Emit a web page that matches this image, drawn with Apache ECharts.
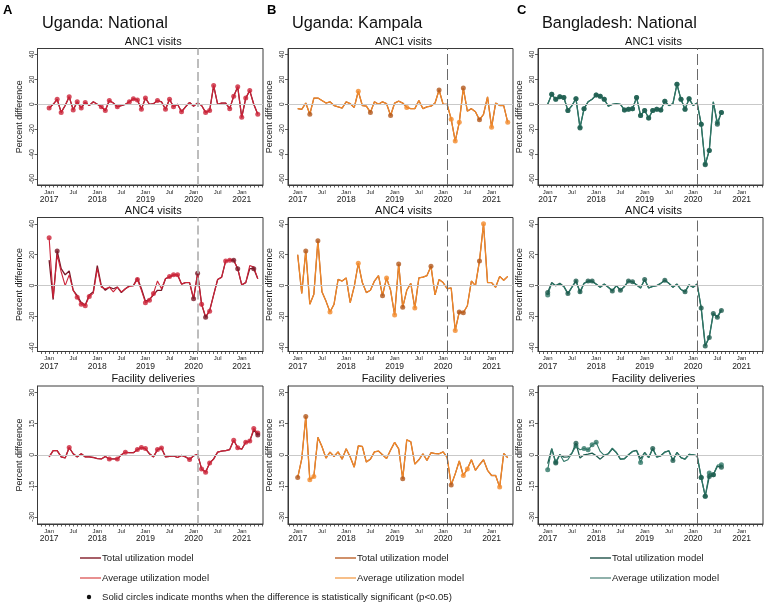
<!DOCTYPE html>
<html><head><meta charset="utf-8">
<script src="https://cdn.jsdelivr.net/npm/echarts@6/dist/echarts.min.js"></script>
<style>html,body{margin:0;padding:0;background:#fff}#c{width:767px;height:605px}</style>
</head><body><div id="c"></div>
<script>
// ---------- tick labels / categories ----------
const xTickMonths = [0, 6, 12, 18, 24, 30, 36, 42, 48];
const xTickMonthNames = ['Jan', 'Jul', 'Jan', 'Jul', 'Jan', 'Jul', 'Jan', 'Jul', 'Jan'];
const xTickYears = ['2017', '', '2018', '', '2019', '', '2020', '', '2021'];
const covidMonth = 37;
const columnLetters = ['A', 'B', 'C'];
const columnTitles = ['Uganda: National', 'Uganda: Kampala', 'Bangladesh: National'];
const rowTitles = ['ANC1 visits', 'ANC4 visits', 'Facility deliveries'];
const yTicksRow1 = [-60, -40, -20, 0, 20, 40];
const yTicksRow2 = [-40, -20, 0, 20, 40];
const yTicksRow3 = [-30, -15, 0, 15, 30];
const legendTotal = 'Total utilization model';
const legendAverage = 'Average utilization model';
const legendNote = 'Solid circles indicate months when the difference is statistically significant (p<0.05)';

// ---------- Uganda: National (months from Jan 2017) ----------
const ugNatAnc1Total = [-3, 0, 4, -6.5, -1, 6, -4.5, 2, -3, 1.5,
  -1, 2, 0, -2, -5, 3, 1, -2, -1, 0,
  2, 4.5, 3.5, -4, 5, 0, 0.5, 3, 2, -4,
  4, -2, 0, -6, -2, 1.5, -1.5, 1, -1, -6.5,
  -5, 15, 0, 1, 1, -3.5, 6.5, 14, -10.5, 5,
  11, 0, -8];
const ugNatAnc1Avg = [-3, 0, 4, -6.5, -1, 6, -4.5, 2, -3, 1.5,
  -1, 2, 0, -2, -5, 3, 1, -2, -1, 0,
  2, 4.5, 3.5, -4, 5, 0, 0.5, 3, 2, -4,
  4, -2, 0, -6, -2, 1.5, -1.5, 1, -1, -6.5,
  -5, 15, 0, 1, 1, -3.5, 6.5, 14, -10.5, 5,
  11, 0, -8];
const ugNatAnc1SigTotal = [];
const ugNatAnc1SigAvg = [0, 2, 3, 5, 6, 7, 8, 9, 13, 14, 15, 17, 20, 21, 22, 23, 24, 27, 29, 30, 31, 33, 39, 40, 41, 45, 46, 47, 48, 49, 50, 52];

const ugNatAnc4Total = [16.5, -9, 22.5, 11, 7, 9.5, -3, -6.5, -11, -12.5,
  -6, -4, 13, 0, -3, -1, -2, -1, -4.5, -2,
  0, 0, 5, -2, -10, -9, -6, -3, -3, 4.5,
  5.5, 7, 7, 1, 2, 2, -8.5, 8, -12, -20.5,
  -16, -6, 4, 5.5, 16, 16.5, 16.5, 11, 0.5, 2,
  11, 11, 4.5];
const ugNatAnc4Avg = [31, -8, 20, 9, 0, 7, -3, -7.5, -12, -13,
  -7, -5, 11, -1, -2, -1, -4, -1, -4, -2,
  -0.5, 0, 4, -3, -11, -9.5, -5, 3, -2, 4.5,
  6, 7, 7, 1, 2, 2, -8.5, 8, -12, -20,
  -16.5, -6, 4, 5.5, 16, 16.5, 16.5, 11, 0.5, 2,
  13, 12, 4.5];
const ugNatAnc4SigTotal = [2, 36, 37, 39, 46, 47, 51];
const ugNatAnc4SigAvg = [0, 7, 8, 9, 10, 22, 24, 25, 26, 30, 31, 32, 38, 40, 44, 45];

const ugNatFacTotal = [-1, 2, 2, -1, -1.5, 3.5, 0.5, -1, 0.5, -1,
  -1, -1.3, -1.8, -2, -0.8, -2, -2, -2, 0, 1.2,
  1, 1, 2.5, 3.5, 3, 0.5, -1, 2.5, 3.3, -1,
  -0.8, -0.5, -1.3, -0.3, -1, -2.3, -0.5, 0.2, -6.8, -8.4,
  -4, -2, 1.3, 1.8, 2, 2.5, 7, 3.4, 2.7, 6.1,
  6.6, 12, 9.5];
const ugNatFacAvg = [-1, 2, 2, -1, -1.5, 3.5, 0.5, -1, 0.5, -1,
  -1, -1.3, -1.8, -2, -0.8, -2, -2, -2, 0, 1.2,
  1, 1, 2.5, 3.5, 3, 0.5, -1, 2.5, 3.3, -1,
  -0.8, -0.5, -1.3, -0.3, -1, -2.3, -0.5, 0.2, -6.8, -8.4,
  -4, -2, 1.3, 1.8, 2, 2.5, 7, 3.4, 2.7, 6.1,
  6.6, 12.7, 10.5];
const ugNatFacSigTotal = [52];
const ugNatFacSigAvg = [5, 15, 17, 19, 22, 23, 24, 27, 28, 35, 38, 39, 40, 46, 47, 49, 50, 51, 52];

// ---------- Uganda: Kampala ----------
const ugKamAnc1Total = [-3.5, -4, 1, -8, 5, 5, 3, 1, 2, -1,
  -2, -3, 2, 0.5, -2.5, 10.5, -1, -1.5, -6.5, 2,
  0, 2, 0.5, -9, 1, 2.5, 1, -2.5, -3.5, -3.5,
  3, -3.5, -2, -1.5, 1, 11.5, 0, 0, -12, -29.5,
  -14.5, 13, -5.5, -3.5, -6, -12.5, -8, 6, -18.5, 1,
  -1, -1, -14.5];
const ugKamAnc1Avg = [-3.5, -4, 1, -8, 5, 5, 3, 1, 2, -1,
  -2, -3, 2, 0.5, -2.5, 10.5, -1, -1.5, -6.5, 2,
  0, 2, 0.5, -9, 1, 2.5, 1, -2.5, -3.5, -3.5,
  3, -3.5, -2, -1.5, 1, 11.5, 0, 0, -12, -29.5,
  -14.5, 13, -5.5, -3.5, -6, -12.5, -8, 6, -18.5, 1,
  -1, -1, -14.5];
const ugKamAnc1SigTotal = [3, 18, 23, 35, 41, 45];
const ugKamAnc1SigAvg = [15, 27, 38, 39, 40, 48, 52];

const ugKamAnc4Total = [20, -5, 22.5, -12, -5.5, 29, -4, -10, -17, -12,
  4, 3, 5, -11, -0.5, 14.5, 2, -4.5, -3, 3,
  6.5, -6.5, 5, -3, -19, 14, -14, -3, 1.5, -14.5,
  5, 5.5, 6.5, 12.5, -6, 4, 2, -2, -1.5, -29,
  -17, -17.5, -13, 3, 0, 16, 40, 2, 2, -1,
  6, 3.5, 6];
const ugKamAnc4Avg = [20, -5, 22.5, -12, -5.5, 29, -4, -10, -17, -12,
  4, 3, 5, -11, -0.5, 14.5, 2, -4.5, -3, 3,
  6.5, -6.5, 5, -3, -19, 14, -14, -3, 1.5, -14.5,
  5, 5.5, 6.5, 12.5, -6, 4, 2, -2, -1.5, -29,
  -17, -17.5, -13, 3, 0, 16, 40, 2, 2, -1,
  6, 3.5, 6];
const ugKamAnc4SigTotal = [2, 5, 21, 25, 26, 33, 40, 41, 45];
const ugKamAnc4SigAvg = [8, 15, 22, 24, 29, 39, 46];

const ugKamFacTotal = [-11, -2, 18.5, -12, -10.5, 8.4, 4, -1.6, 1.3, -0.8,
  1.4, -2.1, 2.9, -1.1, -6, 4.3, 4, -3.5, -2.1, 1.4,
  1.8, 0, -1.8, 2.3, 6, 2.9, -11.6, 7.2, 6.3, -4.5,
  -2.4, 0.5, -2.7, 1, 0.6, 0.5, 1.4, -1.3, -14.6, -9.2,
  -3, -10, -6.9, -2.4, -7.5, -4.8, -2.4, -7.5, -10, -10,
  -15.6, 0.6, -1.4];
const ugKamFacAvg = [-11, -2, 18.5, -12, -10.5, 8.4, 4, -1.6, 1.3, -0.8,
  1.4, -2.1, 2.9, -1.1, -6, 4.3, 4, -3.5, -2.1, 1.4,
  1.8, 0, -1.8, 2.3, 6, 2.9, -11.6, 7.2, 6.3, -4.5,
  -2.4, 0.5, -2.7, 1, 0.6, 0.5, 1.4, -1.3, -14.6, -9.2,
  -3, -10, -6.9, -2.4, -7.5, -4.8, -2.4, -7.5, -10, -10,
  -15.6, 0.6, -1.4];
const ugKamFacSigTotal = [0, 2, 26, 38];
const ugKamFacSigAvg = [3, 4, 41, 42, 50];

// ---------- Bangladesh: National ----------
const bdAnc1Total = [0, 8, 4, 6, 5.5, -5, -1, 4.5, -19, -3.5,
  2, 4, 7.5, 6.5, 4, -1.5, 0, 0.5, 0, -4.5,
  -4, -3.5, 5.5, -9, -5, -11, -5, -4, -4.5, 2.5,
  -1, 0.5, 16, 4, -4, 4.5, -1, 1, -16, -48.5,
  -37, 2, -16, -6.5];
const bdAnc1Avg = [0, 8, 4, 6, 5.5, -5, -1, 4.5, -18.5, -3.5,
  2, 4, 7.5, 6.5, 4, -1.5, 0, 0.5, 0, -4.5,
  -4, -3.5, 5.5, -9, -5, -11, -5, -4, -4.5, 2.5,
  -1, 0.5, 16, 4, -4, 4.5, -1, 1, -16, -48,
  -37, 2, -14.5, -6.5];
const bdAnc1SigTotal = [1, 2, 3, 4, 5, 7, 8, 9, 12, 13, 14, 19, 20, 21, 22, 23, 24, 25, 26, 27, 28, 29, 32, 33, 34, 35, 38, 39, 40, 42, 43];
const bdAnc1SigAvg = [1, 2, 3, 4, 5, 7, 8, 9, 12, 13, 14, 19, 20, 21, 22, 23, 24, 25, 26, 27, 28, 29, 32, 33, 34, 35, 38, 39, 40, 42, 43];

const bdAnc4Total = [-4.5, 2, 0, 1.5, -0.5, -5, -1, 3, -4, 1.5,
  3, 3, 1, -1, 1, -1, -3.5, 0, -3, -0.5,
  3, 2.5, 0.5, -1.5, 4, -1.5, -0.5, 0, 1.5, 3.5,
  1.5, -1, 1, -2.5, -4, 0.5, -1, 1, -14.5, -39,
  -33.5, -18, -20.5, -16];
const bdAnc4Avg = [-6, 1.5, 0, 1, -0.5, -5.5, -1, 3.5, -5, 1.5,
  2.5, 2.5, 1, -1, 1, -1, -3, 0, -3, -0.5,
  3, 2.5, 0.5, -1.5, 4, -1.5, -0.5, 0, 1.5, 3.5,
  1.5, -1, 1, -2.5, -4, 0.5, -1, 1, -14.5, -38.5,
  -33, -18, -20, -15.5];
const bdAnc4SigTotal = [0, 5, 7, 8, 10, 11, 16, 18, 20, 21, 24, 29, 34, 38, 39, 40, 41, 42, 43];
const bdAnc4SigAvg = [0];

const bdFacTotal = [-4.3, 3, -4, 0, -1.1, -1, 0.8, 5.6, -1.6, 0,
  0.3, 0.8, -0.5, -2.1, -0.3, 0.5, 2.9, 1.1, -2.1, -1.9,
  0, 1.6, 2.1, -2, 1.1, -1.4, 3, -1.1, -0.5, 1.3,
  1.9, -2.7, 1.1, -1.4, -2.1, 0.2, 0, -0.5, -10.9, -20,
  -10.5, -9.6, -5.6, -6];
const bdFacAvg = [-7.2, 3, -3.5, 0.3, -3.2, -2.4, 0.8, 4.3, 2.4, 3,
  2.4, 4.8, 6, 1.6, -0.3, 0.5, 3.2, 1.1, -2.1, -1.9,
  0, 1.6, 2.1, -3.7, 1.1, -1.4, 3, -1.1, -0.5, 1.3,
  1.9, -2.7, 1.1, -1.4, -2.1, 0.2, 0, -0.5, -10.9, -20,
  -8.8, -9.6, -5, -4.8];
const bdFacSigTotal = [2, 7, 26, 31, 38, 39, 40, 41, 43];
const bdFacSigAvg = [0, 2, 7, 9, 10, 11, 12, 23, 38, 39, 40, 41, 43];

// ---------- layout & style ----------
const FONT = '"Liberation Sans", Arial, Helvetica, sans-serif';
const cols = [
  { left: 37.5, width: 225.5, xmin: -2.9, total: '#7a1828', avg: '#cc2338', legTotal: '#8a2a36', legAvg: '#e06b6b', vline: '#b2b2b2', vw: 1.7, dash: [9, 4] },
  { left: 288, width: 225, xmin: -2.4, total: '#b2581c', avg: '#f28a2a', legTotal: '#c06c38', legAvg: '#f5aa62', vline: '#6a6a6a', vw: 1, dash: [11, 4] },
  { left: 538, width: 225, xmin: -2.4, total: '#1d5b4e', avg: '#2f7767', legTotal: '#2e5d54', legAvg: '#6b978f', vline: '#6a6a6a', vw: 1, dash: [11, 4] }
];
const XMAX = 53.3;
const rows = [
  { top: 48.5, height: 136.5, ymin: -64.8, ymax: 44.8, ticks: yTicksRow1 },
  { top: 217.5, height: 134, ymin: -42.6, ymax: 44.1, ticks: yTicksRow2 },
  { top: 386, height: 138, ymin: -33.4, ymax: 33.2, ticks: yTicksRow3 }
];
const panels = [
  [[ugNatAnc1Total, ugNatAnc1Avg, ugNatAnc1SigTotal, ugNatAnc1SigAvg],
   [ugKamAnc1Total, ugKamAnc1Avg, ugKamAnc1SigTotal, ugKamAnc1SigAvg],
   [bdAnc1Total, bdAnc1Avg, bdAnc1SigTotal, bdAnc1SigAvg]],
  [[ugNatAnc4Total, ugNatAnc4Avg, ugNatAnc4SigTotal, ugNatAnc4SigAvg],
   [ugKamAnc4Total, ugKamAnc4Avg, ugKamAnc4SigTotal, ugKamAnc4SigAvg],
   [bdAnc4Total, bdAnc4Avg, bdAnc4SigTotal, bdAnc4SigAvg]],
  [[ugNatFacTotal, ugNatFacAvg, ugNatFacSigTotal, ugNatFacSigAvg],
   [ugKamFacTotal, ugKamFacAvg, ugKamFacSigTotal, ugKamFacSigAvg],
   [bdFacTotal, bdFacAvg, bdFacSigTotal, bdFacSigAvg]]
];

const minorTicks = [];
for (let m = -2; m <= 53; m++) minorTicks.push(m);

const grid = [], xAxis = [], yAxis = [], series = [], graphic = [];
rows.forEach((R, r) => {
  cols.forEach((C, c) => {
    const k = r * 3 + c;
    grid.push({ left: C.left, top: R.top, width: C.width, height: R.height, show: true, borderColor: '#3a3a3a', borderWidth: 1, backgroundColor: 'transparent', containLabel: false });
    xAxis.push({
      gridIndex: k, type: 'value', min: C.xmin, max: XMAX,
      axisLine: { show: true, onZero: false, lineStyle: { color: '#3a3a3a', width: 1 } },
      splitLine: { show: false },
      axisTick: { show: true, customValues: minorTicks, length: 2.5, lineStyle: { color: '#3a3a3a', width: 0.8 } },
      axisLabel: {
        customValues: xTickMonths, margin: 3.5, color: '#222', fontFamily: FONT,
        formatter: function (v) {
          const i = xTickMonths.indexOf(Math.round(v));
          if (i < 0) return '';
          return xTickYears[i] ? '{m|' + xTickMonthNames[i] + '}\n{y|' + xTickYears[i] + '}' : '{m|' + xTickMonthNames[i] + '}';
        },
        rich: {
          m: { fontSize: 6, lineHeight: 7, fontFamily: FONT, color: '#222' },
          y: { fontSize: 8.5, lineHeight: 9, fontFamily: FONT, color: '#222' }
        }
      }
    });
    yAxis.push({
      gridIndex: k, type: 'value', min: R.ymin, max: R.ymax,
      axisLine: { show: true, onZero: false, lineStyle: { color: '#3a3a3a', width: 1 } },
      splitLine: { show: false },
      axisTick: { show: true, customValues: R.ticks, length: 3, lineStyle: { color: '#3a3a3a', width: 0.8 } },
      axisLabel: { customValues: R.ticks, rotate: 90, fontSize: 7, margin: 2, color: '#333', fontFamily: FONT },
      name: 'Percent difference', nameLocation: 'middle', nameGap: 13.5, nameRotate: 90,
      nameTextStyle: { fontSize: 9, color: '#222', fontFamily: FONT }
    });
    const [tot, avg, sigT, sigA] = panels[r][c];
    series.push({
      type: 'line', xAxisIndex: k, yAxisIndex: k, data: [], silent: true, z: 1,
      markLine: {
        silent: true, symbol: 'none', label: { show: false }, animation: false,
        data: [
          { yAxis: 0, lineStyle: { color: '#c9c9c9', width: 1, type: 'solid' } },
          { xAxis: covidMonth, lineStyle: { color: C.vline, width: C.vw, type: C.dash } }
        ]
      }
    });
    series.push({ type: 'line', xAxisIndex: k, yAxisIndex: k, z: 3, showSymbol: false, silent: true,
      data: tot.map((v, i) => [i, v]), lineStyle: { color: C.total, width: 1.3 }, itemStyle: { color: C.total } });
    series.push({ type: 'line', xAxisIndex: k, yAxisIndex: k, z: 3, showSymbol: false, silent: true,
      data: avg.map((v, i) => [i, v]), lineStyle: { color: C.avg, width: 1.1 }, itemStyle: { color: C.avg } });
    series.push({ type: 'scatter', xAxisIndex: k, yAxisIndex: k, z: 4, silent: true, symbolSize: 5,
      data: sigA.map(m => [m, avg[m]]), itemStyle: { color: C.avg } });
    series.push({ type: 'scatter', xAxisIndex: k, yAxisIndex: k, z: 4, silent: true, symbolSize: 5,
      data: sigT.map(m => [m, tot[m]]), itemStyle: { color: C.total } });

    // row subtitle
    graphic.push({ type: 'text', silent: true, style: { x: C.left + C.width / 2 + 3, y: R.top - 7, text: rowTitles[r], font: '11px ' + FONT, fill: '#111', align: 'center', verticalAlign: 'middle' } });
  });
});

// column letters & titles
const titleX = [42, 292, 542];
const letterX = [3, 267, 517];
cols.forEach((C, c) => {
  graphic.push({ type: 'text', silent: true, style: { x: letterX[c], y: 10, text: columnLetters[c], font: 'bold 13px ' + FONT, fill: '#000', align: 'left', verticalAlign: 'middle' } });
  graphic.push({ type: 'text', silent: true, style: { x: titleX[c], y: 23.5, text: columnTitles[c], font: '16.3px ' + FONT, fill: '#111', align: 'left', verticalAlign: 'middle' } });
});

// legend
const legX = [80, 335, 590];
const legY1 = 558, legY2 = 578, legY3 = 597;
cols.forEach((C, c) => {
  graphic.push({ type: 'line', silent: true, shape: { x1: legX[c], y1: legY1, x2: legX[c] + 21, y2: legY1 }, style: { stroke: C.legTotal, lineWidth: 1.5 } });
  graphic.push({ type: 'text', silent: true, style: { x: legX[c] + 22, y: legY1, text: legendTotal, font: '9.6px ' + FONT, fill: '#222', align: 'left', verticalAlign: 'middle' } });
  graphic.push({ type: 'line', silent: true, shape: { x1: legX[c], y1: legY2, x2: legX[c] + 21, y2: legY2 }, style: { stroke: C.legAvg, lineWidth: 1.5 } });
  graphic.push({ type: 'text', silent: true, style: { x: legX[c] + 22, y: legY2, text: legendAverage, font: '9.6px ' + FONT, fill: '#222', align: 'left', verticalAlign: 'middle' } });
});
graphic.push({ type: 'circle', silent: true, shape: { cx: 89, cy: legY3, r: 2.2 }, style: { fill: '#111' } });
graphic.push({ type: 'text', silent: true, style: { x: 102, y: legY3, text: legendNote, font: '9.6px ' + FONT, fill: '#222', align: 'left', verticalAlign: 'middle' } });

const chart = echarts.init(document.getElementById('c'), null, { renderer: 'canvas' });
chart.setOption({
  animation: false,
  backgroundColor: '#fff',
  textStyle: { fontFamily: FONT },
  grid, xAxis, yAxis, series, graphic
});
</script></body></html>
